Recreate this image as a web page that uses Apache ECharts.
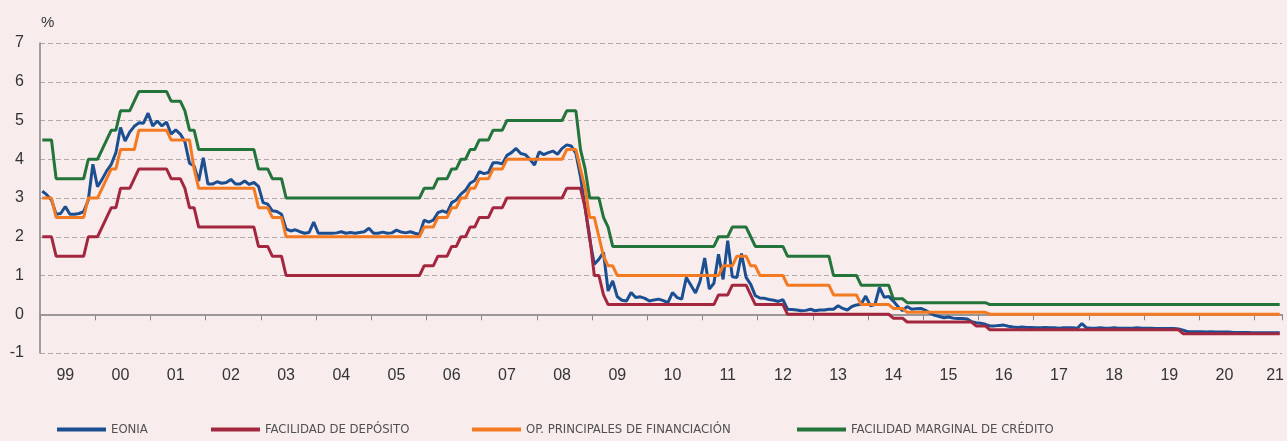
<!DOCTYPE html>
<html>
<head>
<meta charset="utf-8">
<script src="https://cdn.jsdelivr.net/npm/echarts@6/dist/echarts.min.js"></script>
<style>
html,body{margin:0;padding:0;background:#f8eced;}
#chart{width:1287px;height:441px;}
</style>
</head>
<body>
<div id="chart"></div>
<script>
// Year tick labels (Jan 1999 .. Jun 2021, monthly data)
var years = ['99','00','01','02','03','04','05','06','07','08','09','10','11','12','13','14','15','16','17','18','19','20','21'];
var monthsInLastYear = 6;

var eonia = [
 3.18,3.08,2.95,2.58,2.60,2.78,2.58,2.58,2.60,2.65,2.95,3.87,
 3.29,3.48,3.70,3.87,4.17,4.82,4.47,4.70,4.85,4.94,4.93,5.19,
 4.86,4.99,4.86,4.96,4.65,4.76,4.65,4.45,3.90,3.83,3.44,4.04,
 3.36,3.36,3.42,3.38,3.40,3.48,3.36,3.36,3.44,3.35,3.40,3.30,
 2.88,2.84,2.67,2.65,2.58,2.20,2.15,2.18,2.13,2.09,2.11,2.38,
 2.09,2.09,2.09,2.09,2.10,2.13,2.09,2.11,2.09,2.11,2.13,2.22,
 2.09,2.09,2.12,2.09,2.10,2.17,2.12,2.10,2.13,2.09,2.06,2.43,
 2.38,2.43,2.62,2.67,2.62,2.88,2.95,3.10,3.20,3.38,3.45,3.68,
 3.63,3.66,3.91,3.91,3.88,4.10,4.17,4.28,4.15,4.12,4.00,3.85,
 4.19,4.12,4.17,4.21,4.13,4.28,4.37,4.34,4.15,3.55,2.75,1.94,
 1.29,1.42,1.60,0.60,0.86,0.45,0.36,0.34,0.56,0.43,0.45,0.41,
 0.34,0.37,0.39,0.35,0.30,0.56,0.43,0.39,0.95,0.75,0.55,0.85,
 1.45,0.65,0.80,1.55,0.90,1.90,0.97,0.95,1.57,0.95,0.77,0.48,
 0.42,0.41,0.38,0.36,0.33,0.38,0.13,0.12,0.11,0.09,0.10,0.13,
 0.09,0.11,0.11,0.13,0.13,0.22,0.15,0.11,0.20,0.24,0.26,0.47,
 0.22,0.25,0.69,0.44,0.46,0.34,0.20,0.09,0.20,0.13,0.14,0.15,
 0.10,0.03,-0.03,-0.06,-0.09,-0.07,-0.10,-0.11,-0.11,-0.12,-0.19,-0.22,
 -0.23,-0.26,-0.30,-0.30,-0.29,-0.28,-0.31,-0.33,-0.34,-0.33,-0.34,-0.34,
 -0.35,-0.35,-0.34,-0.35,-0.35,-0.36,-0.35,-0.35,-0.35,-0.36,-0.24,-0.35,
 -0.36,-0.36,-0.35,-0.36,-0.36,-0.35,-0.36,-0.36,-0.36,-0.36,-0.35,-0.36,
 -0.36,-0.36,-0.37,-0.37,-0.37,-0.37,-0.37,-0.38,-0.41,-0.45,-0.45,-0.45,
 -0.45,-0.46,-0.45,-0.46,-0.46,-0.46,-0.46,-0.47,-0.47,-0.47,-0.47,-0.48,
 -0.48,-0.48,-0.48,-0.48,-0.48,-0.48
];

var facilidadDeposito = [
 2,2,2,1.5,1.5,1.5,1.5,1.5,1.5,1.5,2,2,
 2,2.25,2.5,2.75,2.75,3.25,3.25,3.25,3.5,3.75,3.75,3.75,
 3.75,3.75,3.75,3.75,3.5,3.5,3.5,3.25,2.75,2.75,2.25,2.25,
 2.25,2.25,2.25,2.25,2.25,2.25,2.25,2.25,2.25,2.25,2.25,1.75,
 1.75,1.75,1.5,1.5,1.5,1,1,1,1,1,1,1,
 1,1,1,1,1,1,1,1,1,1,1,1,
 1,1,1,1,1,1,1,1,1,1,1,1.25,
 1.25,1.25,1.5,1.5,1.5,1.75,1.75,2,2,2.25,2.25,2.5,
 2.5,2.5,2.75,2.75,2.75,3,3,3,3,3,3,3,
 3,3,3,3,3,3,3.25,3.25,3.25,3.25,2.75,2,
 1,1,0.5,0.25,0.25,0.25,0.25,0.25,0.25,0.25,0.25,0.25,
 0.25,0.25,0.25,0.25,0.25,0.25,0.25,0.25,0.25,0.25,0.25,0.25,
 0.25,0.25,0.25,0.5,0.5,0.5,0.75,0.75,0.75,0.75,0.5,0.25,
 0.25,0.25,0.25,0.25,0.25,0.25,0,0,0,0,0,0,
 0,0,0,0,0,0,0,0,0,0,0,0,
 0,0,0,0,0,-0.1,-0.1,-0.1,-0.2,-0.2,-0.2,-0.2,
 -0.2,-0.2,-0.2,-0.2,-0.2,-0.2,-0.2,-0.2,-0.2,-0.2,-0.2,-0.3,
 -0.3,-0.3,-0.4,-0.4,-0.4,-0.4,-0.4,-0.4,-0.4,-0.4,-0.4,-0.4,
 -0.4,-0.4,-0.4,-0.4,-0.4,-0.4,-0.4,-0.4,-0.4,-0.4,-0.4,-0.4,
 -0.4,-0.4,-0.4,-0.4,-0.4,-0.4,-0.4,-0.4,-0.4,-0.4,-0.4,-0.4,
 -0.4,-0.4,-0.4,-0.4,-0.4,-0.4,-0.4,-0.4,-0.5,-0.5,-0.5,-0.5,
 -0.5,-0.5,-0.5,-0.5,-0.5,-0.5,-0.5,-0.5,-0.5,-0.5,-0.5,-0.5,
 -0.5,-0.5,-0.5,-0.5,-0.5,-0.5
];

var opPrincipales = [
 3,3,3,2.5,2.5,2.5,2.5,2.5,2.5,2.5,3,3,
 3,3.25,3.5,3.75,3.75,4.25,4.25,4.25,4.25,4.75,4.75,4.75,
 4.75,4.75,4.75,4.75,4.5,4.5,4.5,4.5,4.5,3.75,3.25,3.25,
 3.25,3.25,3.25,3.25,3.25,3.25,3.25,3.25,3.25,3.25,3.25,2.75,
 2.75,2.75,2.5,2.5,2.5,2,2,2,2,2,2,2,
 2,2,2,2,2,2,2,2,2,2,2,2,
 2,2,2,2,2,2,2,2,2,2,2,2.25,
 2.25,2.25,2.5,2.5,2.5,2.75,2.75,3,3,3.25,3.25,3.5,
 3.5,3.5,3.75,3.75,3.75,4,4,4,4,4,4,4,
 4,4,4,4,4,4,4.25,4.25,4.25,3.75,3.25,2.5,
 2.5,2,1.5,1.25,1.25,1,1,1,1,1,1,1,
 1,1,1,1,1,1,1,1,1,1,1,1,
 1,1,1,1,1.25,1.25,1.25,1.5,1.5,1.5,1.25,1.25,
 1,1,1,1,1,1,0.75,0.75,0.75,0.75,0.75,0.75,
 0.75,0.75,0.75,0.75,0.5,0.5,0.5,0.5,0.5,0.5,0.25,0.25,
 0.25,0.25,0.25,0.25,0.25,0.15,0.15,0.15,0.05,0.05,0.05,0.05,
 0.05,0.05,0.05,0.05,0.05,0.05,0.05,0.05,0.05,0.05,0.05,0.05,
 0.05,0.05,0,0,0,0,0,0,0,0,0,0,
 0,0,0,0,0,0,0,0,0,0,0,0,
 0,0,0,0,0,0,0,0,0,0,0,0,
 0,0,0,0,0,0,0,0,0,0,0,0,
 0,0,0,0,0,0,0,0,0,0,0,0,
 0,0,0,0,0,0
];

var facilidadMarginal = [
 4.5,4.5,4.5,3.5,3.5,3.5,3.5,3.5,3.5,3.5,4,4,
 4,4.25,4.5,4.75,4.75,5.25,5.25,5.25,5.5,5.75,5.75,5.75,
 5.75,5.75,5.75,5.75,5.5,5.5,5.5,5.25,4.75,4.75,4.25,4.25,
 4.25,4.25,4.25,4.25,4.25,4.25,4.25,4.25,4.25,4.25,4.25,3.75,
 3.75,3.75,3.5,3.5,3.5,3,3,3,3,3,3,3,
 3,3,3,3,3,3,3,3,3,3,3,3,
 3,3,3,3,3,3,3,3,3,3,3,3.25,
 3.25,3.25,3.5,3.5,3.5,3.75,3.75,4,4,4.25,4.25,4.5,
 4.5,4.5,4.75,4.75,4.75,5,5,5,5,5,5,5,
 5,5,5,5,5,5,5.25,5.25,5.25,4.25,3.75,3,
 3,3,2.5,2.25,1.75,1.75,1.75,1.75,1.75,1.75,1.75,1.75,
 1.75,1.75,1.75,1.75,1.75,1.75,1.75,1.75,1.75,1.75,1.75,1.75,
 1.75,1.75,1.75,2,2,2,2.25,2.25,2.25,2.25,2,1.75,
 1.75,1.75,1.75,1.75,1.75,1.75,1.5,1.5,1.5,1.5,1.5,1.5,
 1.5,1.5,1.5,1.5,1,1,1,1,1,1,0.75,0.75,
 0.75,0.75,0.75,0.75,0.75,0.4,0.4,0.4,0.3,0.3,0.3,0.3,
 0.3,0.3,0.3,0.3,0.3,0.3,0.3,0.3,0.3,0.3,0.3,0.3,
 0.3,0.3,0.25,0.25,0.25,0.25,0.25,0.25,0.25,0.25,0.25,0.25,
 0.25,0.25,0.25,0.25,0.25,0.25,0.25,0.25,0.25,0.25,0.25,0.25,
 0.25,0.25,0.25,0.25,0.25,0.25,0.25,0.25,0.25,0.25,0.25,0.25,
 0.25,0.25,0.25,0.25,0.25,0.25,0.25,0.25,0.25,0.25,0.25,0.25,
 0.25,0.25,0.25,0.25,0.25,0.25,0.25,0.25,0.25,0.25,0.25,0.25,
 0.25,0.25,0.25,0.25,0.25,0.25
];

var seriesNames = ['EONIA','FACILIDAD DE DEPÓSITO','OP. PRINCIPALES DE FINANCIACIÓN','FACILIDAD MARGINAL DE CRÉDITO'];
var seriesColors = ['#1b4f91','#a3283f','#f47a22','#22743b'];
var seriesData = [eonia, facilidadDeposito, opPrincipales, facilidadMarginal];

// month categories built from the year labels
var categories = [];
years.forEach(function (y, yi) {
  var n = (yi === years.length - 1) ? monthsInLastYear : 12;
  for (var m = 0; m < n; m++) categories.push(y + '-' + (m + 1));
});

var labelFont = "'Liberation Sans', Arial, sans-serif";
var legendFont = "'Liberation Sans Narrow', 'Arial Narrow', 'DejaVu Sans Condensed', sans-serif";
var legendLefts = [57, 211, 472, 797];

var chart = echarts.init(document.getElementById('chart'), null, {renderer: 'canvas'});
chart.setOption({
  animation: false,
  backgroundColor: '#f8eced',
  grid: {left: 40, right: 0, top: 43, bottom: 88, containLabel: false},
  legend: seriesNames.map(function (n, i) {
    return {
      data: [n], left: legendLefts[i], top: 423, padding: 0,
      icon: 'rect', itemWidth: 49, itemHeight: 4, itemGap: 0,
      textStyle: {fontFamily: legendFont, fontSize: 13, color: '#505050'},
      selectedMode: false
    };
  }),
  xAxis: {
    type: 'category',
    data: categories,
    boundaryGap: true,
    axisLine: {show: true, lineStyle: {color: '#858585', width: 1.5}},
    axisTick: {
      show: true, length: 6, lineStyle: {color: '#858585', width: 1},
      interval: function (i) { return i % 12 === 0; }
    },
    axisLabel: {
      interval: function (i) { return i % 12 === 5 || i === categories.length - 2; },
      formatter: function (v, i) {
        if (i === categories.length - 2) return years[years.length - 1];
        return v.split('-')[0];
      },
      color: '#333', fontSize: 16, fontFamily: labelFont, margin: 15
    },
    splitLine: {show: false}
  },
  yAxis: {
    type: 'value', min: -1, max: 7, interval: 1,
    name: '%', nameLocation: 'end', nameGap: 13,
    nameTextStyle: {color: '#333', fontSize: 15, fontFamily: labelFont, align: 'left', padding: [0, 0, 0, 1]},
    axisLine: {show: true, lineStyle: {color: '#858585', width: 1.5}},
    axisTick: {show: false},
    axisLabel: {color: '#333', fontSize: 16, fontFamily: labelFont, margin: 16},
    splitLine: {show: true, lineStyle: {color: '#b0aaab', width: 1, type: [5, 3]}}
  },
  series: seriesNames.map(function (n, i) {
    var s = {
      name: n, type: 'line', data: seriesData[i],
      showSymbol: false, symbol: 'none', smooth: false,
      color: seriesColors[i],
      lineStyle: {width: 3, color: seriesColors[i]},
      z: 2 + i
    };
    if (i === 0) {
      s.markLine = {
        silent: true, symbol: ['none', 'none'], label: {show: false},
        lineStyle: {color: '#9a9697', width: 1.5, type: 'solid'},
        data: [{yAxis: 0}], z: 1
      };
    }
    return s;
  })
});
</script>
</body>
</html>
